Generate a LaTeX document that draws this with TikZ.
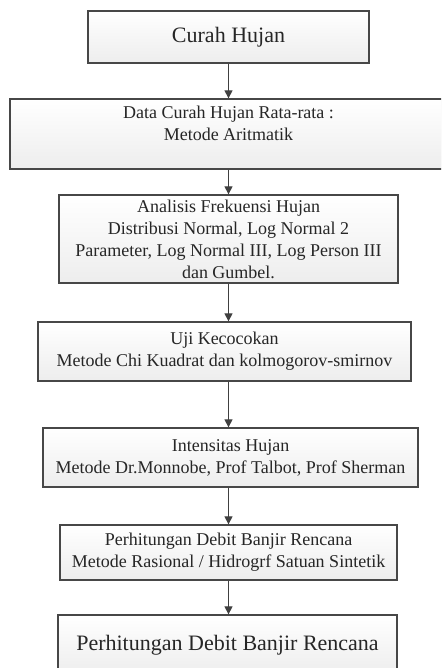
\documentclass[tikz,border=0pt]{standalone}
\usepackage{fontspec}
\setmainfont{Liberation Serif}
\usetikzlibrary{arrows.meta,shadows}

\begin{document}
\begin{tikzpicture}[x=1pt,y=-1pt,
    box/.style={draw=black!72, line width=1.3pt, top color=white, bottom color=black!7,
      drop shadow={shadow xshift=1pt, shadow yshift=-1.2pt, opacity=0.25},
      align=center, text=black!85, inner sep=2pt,
      font=\fontsize{18}{22}\selectfont},
    bigbox/.style={box, font=\fontsize{22}{26}\selectfont},
    flow/.style={draw=black!75, line width=1.2pt, -{Triangle[width=8pt,length=8pt]}}]
  % Page frame, the bottom box runs off the edge
  \clip (0,0) rectangle (441,668);

  % The boxes, top to bottom
  \node[bigbox, minimum width=281pt, minimum height=52pt] (hujan) at (228.5,37) {Curah Hujan};
  \node[box, minimum width=437pt, minimum height=70pt, text depth=22pt] (rata) at (228.5,134)
    {Data Curah Hujan Rata-rata :\\ Metode Aritmatik};
  \node[box, minimum width=339pt, minimum height=88pt] (frek) at (228.5,239)
    {Analisis Frekuensi Hujan\\ Distribusi Normal, Log Normal 2\\
     Parameter, Log Normal III, Log Person III\\ dan Gumbel.};
  \node[box, minimum width=373pt, minimum height=59pt] (uji) at (224.5,351.5)
    {Uji Kecocokan\\ Metode Chi Kuadrat dan kolmogorov-smirnov};
  \node[box, minimum width=375pt, minimum height=59pt] (intens) at (230.5,457.5)
    {Intensitas Hujan\\ Metode Dr.Monnobe, Prof Talbot, Prof Sherman};
  \node[box, minimum width=337pt, minimum height=55pt] (debit) at (228.5,552.5)
    {Perhitungan Debit Banjir Rencana\\ Metode Rasional / Hidrogrf Satuan Sintetik};
  \node[bigbox, minimum width=339pt, minimum height=60pt] (hasil) at (227.5,645)
    {Perhitungan Debit Banjir Rencana};

  % Connect them
  \draw[flow] (hujan.south) -- (hujan.south |- rata.north);
  \draw[flow] (rata.south) -- (rata.south |- frek.north);
  \draw[flow] (frek.south) -- (frek.south |- uji.north);
  \draw[flow] (frek.south |- uji.south) -- (frek.south |- intens.north);
  \draw[flow] (debit.north |- intens.south) -- (debit.north);
  \draw[flow] (debit.south) -- (debit.south |- hasil.north);
\end{tikzpicture}
\end{document}
